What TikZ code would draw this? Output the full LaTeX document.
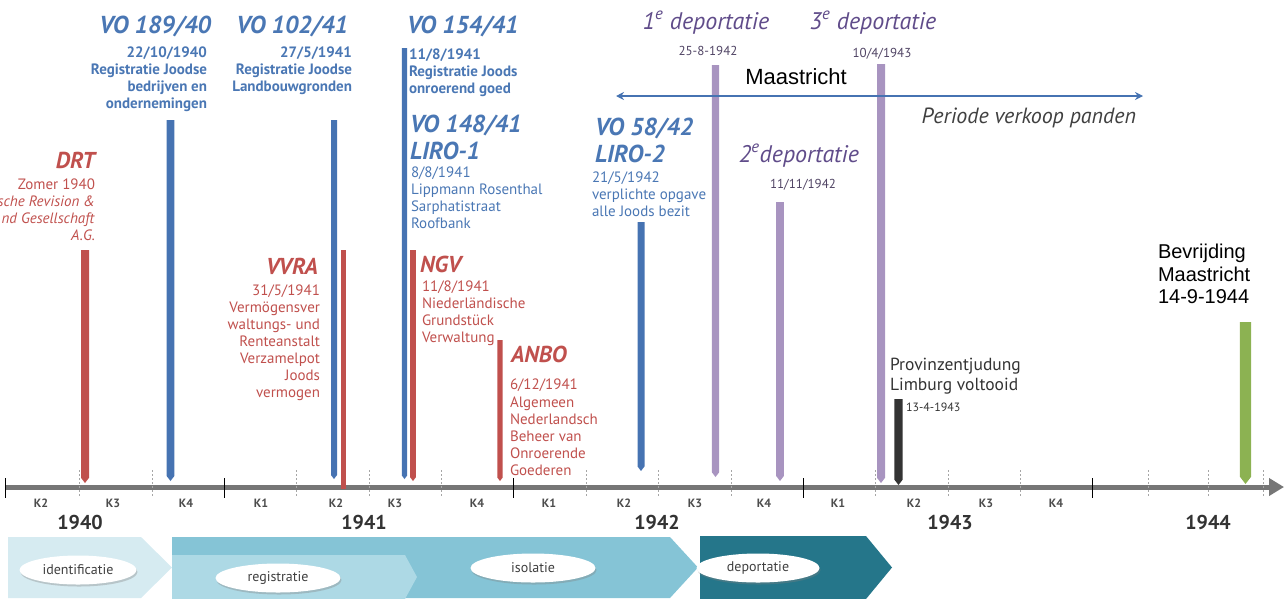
\documentclass[tikz,border=0pt]{standalone}
\usepackage{fontspec}
\setmainfont{PT Sans}
\newfontfamily\arialf{Liberation Sans}
\usetikzlibrary{arrows.meta,shadows,shapes.geometric}
\definecolor{cblue}{RGB}{74,119,180}
\definecolor{cbar}{RGB}{70,115,178}
\definecolor{cred}{RGB}{192,80,77}
\definecolor{cpurp}{RGB}{168,148,192}
\definecolor{cpurptxt}{RGB}{96,76,138}
\definecolor{cpdate}{RGB}{80,68,100}
\definecolor{cgreen}{RGB}{140,178,82}
\definecolor{cdark}{RGB}{51,51,51}
\definecolor{caxis}{RGB}{118,118,118}
\definecolor{chevA}{RGB}{214,235,241}
\definecolor{chevB}{RGB}{133,196,214}
\definecolor{chevC}{RGB}{173,217,229}
\definecolor{chevD}{RGB}{37,118,138}
\newcommand\tlbar[5]{\fill[#5] ({#1-#4},#2) -- ({#1+#4},#2) -- ({#1+#4},{#3-1.3*#4}) -- (#1,#3) -- ({#1-#4},{#3-1.3*#4}) -- cycle;}
\tikzset{
  every node/.style={inner sep=0pt,outer sep=0pt},
  ttl/.style={font=\fontsize{24.5}{27}\selectfont\bfseries\itshape},
  rttl/.style={font=\fontsize{23}{27}\selectfont\bfseries\itshape,text=cred},
  smlb/.style={font=\fontsize{15}{17}\selectfont\bfseries},
  sml/.style={font=\fontsize{15}{17}\selectfont},
  dep/.style={font=\fontsize{24}{26}\selectfont\itshape,text=cpurptxt},
  depdate/.style={font=\fontsize{13}{15}\selectfont,text=cpdate},
  klab/.style={font=\fontsize{12}{14}\selectfont\bfseries,text=black!70},
  ylab/.style={font=\fontsize{20}{22}\selectfont\bfseries,text=cdark},
  qtick/.style={black!35,line width=0.8pt,dash pattern=on 2pt off 2pt},
  ytick/.style={black,line width=0.9pt},
  ovalbox/.style={ellipse,fill=white,inner sep=0pt,minimum height=29pt,
    font=\fontsize{14}{16}\selectfont,text=black!75,
    drop shadow={shadow xshift=1pt,shadow yshift=-2pt,opacity=0.35}}
}
\begin{document}
\begin{tikzpicture}[x=1pt,y=-1pt]
\useasboundingbox (0,0) rectangle (1284,598);
\clip (0,0) rectangle (1284,598);
% phase chevrons
\fill[chevA] (8,537) -- (141,537) -- (172,567.5) -- (141,598) -- (8,598) -- cycle;
\fill[chevB] (172,537) -- (670,537) -- (698,567.5) -- (670,598) -- (172,598) -- cycle;
\fill[chevC] (172,555) -- (405,555) -- (417,577) -- (405,599) -- (172,599) -- cycle;
\fill[chevD] (700,536) -- (866,536) -- (892,567.5) -- (866,599) -- (700,599) -- cycle;
\node[ovalbox,minimum width=117pt] (pid) at (78,570) {identificatie};
\node[ovalbox,minimum width=125pt] (preg) at (278,578) {registratie};
\node[ovalbox,minimum width=125pt] (piso) at (533,568) {isolatie};
\node[ovalbox,minimum width=123pt] (pdep) at (758,568) {deportatie};
% axis
\coordinate (axL) at (5,487);
\coordinate (axR) at (1284,487);
\draw[caxis,line width=5pt,-{Triangle[length=15pt,width=17pt]}] (axL) -- (axR);
\foreach \x in {5,224,513,803,1092} \draw[ytick] (\x,478) -- (\x,498);
\foreach \x in {79,152,296,369,441,586,658,731,875,948,1020,1148,1208,1263} \draw[qtick] (\x,470) -- (\x,497);
\foreach \x/\t [count=\i] in {41/K2,113/K3,186/K4,261/K1,336/K2,395/K3,477/K4,549/K1,624/K2,695/K3,764/K4,838/K1,914/K2,986/K3,1056/K4}
  \node[klab] (k\i) at (\x,503) {\t};
\foreach \x/\t in {80/1940,364/1941,657/1942,950/1943,1208/1944}
  \node[ylab] (y\t) at (\x,522) {\t};
% bars
\tlbar{85}{250}{483}{4}{cred}
\tlbar{170.5}{120}{481}{3.8}{cbar}
\tlbar{334}{120}{479}{3}{cbar}
\fill[cred] (341,250) rectangle (345.5,489);
\tlbar{404.5}{48}{479}{2.6}{cbar}
\tlbar{413}{250}{481}{2.8}{cred}
\tlbar{500}{340}{481}{2.6}{cred}
\tlbar{641}{222}{471}{3.5}{cbar}
\tlbar{715.5}{65}{477}{3.6}{cpurp}
\tlbar{780}{202}{481}{3.8}{cpurp}
\tlbar{881}{64}{483}{4}{cpurp}
\tlbar{898.5}{399}{485}{4.2}{cdark}
\tlbar{1245.5}{322}{484}{5.6}{cgreen}
% Maastricht arrow
\coordinate (mL) at (616,96);
\coordinate (mR) at (1143,96);
\draw[cbar,line width=2.4pt,{Stealth[length=8pt,width=8pt]}-{Stealth[length=8pt,width=8pt]}] (mL) -- (mR);
\node[font=\arialf\fontsize{22}{24}\selectfont,anchor=base] (maas) at (796,84) {Maastricht};
\node[font=\fontsize{22}{24}\selectfont\itshape,text=black!75,anchor=base east] (verk) at (1136,123) {Periode verkoop panden};
% blue texts
\node[ttl,text=cblue,anchor=base east] (vo1) at (211,33) {VO 189/40};
\node[smlb,text=cblue,align=right,anchor=north east] (vo1t) at (207,47) {22/10/1940\\Registratie Joodse\\bedrijven en\\ondernemingen};
\node[ttl,text=cblue,anchor=base east] (vo2) at (348,33) {VO 102/41};
\node[smlb,text=cblue,align=right,anchor=north east] (vo2t) at (352,47) {27/5/1941\\Registratie Joodse\\Landbouwgronden};
\node[ttl,text=cblue,anchor=base west] (vo3) at (407,33) {VO 154/41};
\node[smlb,text=cblue,align=left,anchor=north west] (vo3t) at (409,49) {11/8/1941\\Registratie Joods\\onroerend goed};
\node[ttl,text=cblue,align=left,anchor=north west] (vo4) at (410,115) {VO 148/41\\LIRO-1};
\node[sml,text=cblue,align=left,anchor=north west] (vo4t) at (411,167) {8/8/1941\\Lippmann Rosenthal\\Sarphatistraat\\Roofbank};
\node[ttl,text=cblue,align=left,anchor=north west] (vo5) at (595,118) {VO 58/42\\LIRO-2};
\node[sml,text=cblue,align=left,anchor=north west] (vo5t) at (592,172) {21/5/1942\\verplichte opgave\\alle Joods bezit};
% red texts
\node[rttl,anchor=base east] (drt) at (95,168) {DRT};
\node[sml,text=cred,align=right,anchor=north east] (drtt) at (95,179) {Zomer 1940\\\textit{sche Revision \&}\\\textit{nd Gesellschaft}\\\textit{A.G.}};
\node[rttl,anchor=base east] (vvra) at (318,274) {VVRA};
\node[sml,text=cred,align=right,anchor=north east] (vvrat) at (320,285) {31/5/1941\\Vermögensver\\waltungs- und\\Renteanstalt\\Verzamelpot\\Joods\\vermogen};
\node[rttl,anchor=base west] (ngv) at (420,272) {NGV};
\node[sml,text=cred,align=left,anchor=north west] (ngvt) at (422,281) {11/8/1941\\Niederländische\\Grundstück\\Verwaltung};
\node[rttl,anchor=base west] (anbo) at (511,362) {ANBO};
\node[sml,text=cred,anchor=base west] (anbod) at (510,389) {6/12/1941};
\node[sml,text=cred,align=left,anchor=north west] (anbot) at (510,397) {Algemeen\\Nederlandsch\\Beheer van\\Onroerende\\Goederen};
% deportaties
\node[dep,anchor=base] (d1) at (706,29) {1\textsuperscript{e} deportatie};
\node[depdate,anchor=base] (d1d) at (708,55) {25-8-1942};
\node[dep,anchor=base] (d3) at (873,29) {3\textsuperscript{e} deportatie};
\node[depdate,anchor=base] (d3d) at (882,57) {10/4/1943};
\node[dep,anchor=base] (d2) at (799,162) {2\textsuperscript{e}deportatie};
\node[depdate,anchor=base] (d2d) at (803,188) {11/11/1942};
% provinzentjudung
\node[font=\fontsize{17.5}{20}\selectfont,text=cdark,align=left,anchor=north west] (prov) at (890,358) {Provinzentjudung\\Limburg voltooid};
\node[font=\fontsize{12}{14}\selectfont,text=cdark,anchor=base west] (provd) at (906,411) {13-4-1943};
% bevrijding
\node[font=\arialf\fontsize{20}{22.5}\selectfont,align=left,anchor=north west] (bev) at (1158,244) {Bevrijding\\Maastricht\\14-9-1944};
\end{tikzpicture}
\end{document}
